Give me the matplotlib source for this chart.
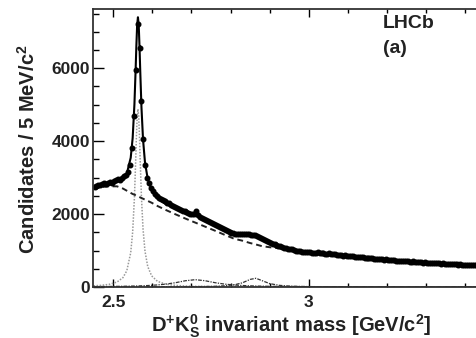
import numpy as np
import matplotlib
matplotlib.use("Agg")
import matplotlib.pyplot as plt
from matplotlib.ticker import MultipleLocator

plt.rcParams['font.family'] = ['Liberation Sans', 'DejaVu Sans']
plt.rcParams['font.weight'] = 'bold'
plt.rcParams['mathtext.fontset'] = 'custom'
plt.rcParams['mathtext.rm'] = 'Liberation Sans:bold'
plt.rcParams['mathtext.it'] = 'Liberation Sans:bold'
plt.rcParams['mathtext.bf'] = 'Liberation Sans:bold'

# data: 5 MeV bins, first bin centre 2.4525 GeV
bin_start = 2.4525
bin_width = 0.005
counts = [
    2730, 2770, 2800, 2790, 2830, 2860, 2820, 2850, 2880, 2860,
    2900, 2920, 2950, 2940, 2990, 3030, 3080, 3150, 3350, 3800,
    4700, 5950, 7200, 6550, 5100, 4050, 3350, 3000, 2850, 2720,
    2640, 2560, 2500, 2450, 2420, 2380, 2350, 2300, 2290, 2250,
    2220, 2190, 2160, 2150, 2120, 2090, 2080, 2060, 2030, 2010,
    1990, 2010, 2090, 1960, 1930, 1900, 1870, 1850, 1820, 1790,
    1760, 1720, 1700, 1670, 1640, 1610, 1580, 1560, 1530, 1510,
    1490, 1470, 1465, 1450, 1445, 1450, 1460, 1440, 1455, 1440,
    1430, 1425, 1420, 1400, 1380, 1350, 1320, 1300, 1270, 1240,
    1210, 1190, 1170, 1150, 1130, 1110, 1100, 1080, 1070, 1050,
    1040, 1030, 1010, 1000, 990, 990, 970, 960, 960, 950,
    950, 945, 940, 935, 950, 930, 920, 930, 915, 905,
    920, 900, 895, 900, 880, 885, 870, 860, 865, 850,
    855, 840, 845, 830, 825, 830, 810, 815, 800, 805,
    795, 790, 795, 780, 770, 775, 760, 765, 750, 755,
    745, 740, 730, 735, 720, 725, 710, 715, 705, 700,
    710, 695, 690, 700, 685, 680, 690, 675, 670, 680,
    665, 660, 670, 655, 650, 660, 645, 640, 650, 635,
    640, 630, 625, 635, 620, 625, 615, 620, 610, 615,
    605, 610, 600, 605, 595, 600, 595,
]

# fit components
curve_mass = [2.450, 2.470, 2.490, 2.510, 2.525, 2.535, 2.545, 2.550,
              2.5545, 2.5575, 2.5595, 2.5615, 2.5635, 2.5655, 2.5675, 2.5695, 2.5725,
              2.5765, 2.5815, 2.5885, 2.5985, 2.6135,
              2.635, 2.660, 2.685, 2.710, 2.735, 2.760, 2.785, 2.810,
              2.830, 2.850, 2.865, 2.880, 2.900, 2.925, 2.950, 2.975, 3.000,
              3.050, 3.100, 3.150, 3.200, 3.250, 3.300, 3.350, 3.400, 3.440]
background = [2680, 2740, 2760, 2760, 2700, 2640, 2580, 2550,
              2530, 2515, 2505, 2495, 2485, 2475, 2465, 2455, 2440,
              2420, 2395, 2360, 2310, 2220,
              2110, 1990, 1875, 1765, 1655, 1545, 1430, 1320,
              1270, 1205, 1165, 1120, 1090, 1060, 1025, 975, 945,
              910, 860, 810, 760, 705, 675, 642, 612, 597]
ds2_2573 = [31, 45, 72, 135, 254, 444, 938, 1508,
            2450, 3390, 4090, 4670, 4880, 4670, 4090, 3390, 2450,
            1590, 980, 560, 304, 153,
            76, 42, 27, 18, 13, 10, 8, 6,
            5, 4, 4, 3, 3, 2, 2, 2, 1,
            1, 0, 0, 0, 0, 0, 0, 0, 0]
ds1_2700 = [10, 12, 14, 17, 19, 21, 23, 25,
            26, 27, 27, 28, 29, 29, 30, 30, 32,
            34, 36, 39, 45, 56,
            78, 118, 171, 200, 171, 118, 78, 53,
            40, 31, 26, 22, 18, 14, 12, 10, 8,
            6, 5, 4, 3, 3, 2, 2, 2, 2]
dsj_2860 = [1, 1, 2, 2, 2, 2, 2, 2,
            2, 2, 2, 2, 3, 3, 3, 3, 3,
            3, 3, 3, 3, 3,
            4, 5, 7, 9, 13, 19, 32, 60,
            112, 207, 238, 176, 92, 44, 25, 16, 11,
            6, 4, 3, 2, 2, 1, 1, 1, 1]

counts = np.array(counts)
mass = bin_start + bin_width * np.arange(len(counts))
total = np.array(background) + np.array(ds2_2573) + np.array(ds1_2700) + np.array(dsj_2860)

fig = plt.figure(figsize=(4.77, 3.38), dpi=100)
ax = fig.add_axes([0.195, 0.151, 0.81, 0.822])

ax.plot(curve_mass, ds2_2573, color='#999999', ls=(0, (1, 1)), lw=1.1)
ax.plot(curve_mass, ds1_2700, color='#333333', ls=(0, (3, 1, 1, 1)), lw=0.9)
ax.plot(curve_mass, dsj_2860, color='#333333', ls=(0, (3, 1, 1, 1)), lw=0.9)
ax.plot(curve_mass, background, color='#222222', ls=(0, (3, 2)), lw=1.4)
ax.errorbar(mass, counts, yerr=np.sqrt(counts), fmt='o', color='black',
            ms=3.3, elinewidth=1.2, capsize=0)
ax.plot(curve_mass, total, color='black', lw=1.5)

ax.set_xlim(2.4487, 3.4359)
ax.set_ylim(0, 7620)
ax.xaxis.set_major_locator(MultipleLocator(0.5))
ax.xaxis.set_minor_locator(MultipleLocator(0.1))
ax.yaxis.set_major_locator(MultipleLocator(2000))
ax.yaxis.set_minor_locator(MultipleLocator(500))
ax.xaxis.set_major_formatter(plt.FuncFormatter(lambda v, p: f'{v:g}'))

ax.tick_params(axis='x', which='both', direction='in', top=True, bottom=True,
               width=1.0, labelsize=12.5, pad=6, labelcolor='#222222')
ax.tick_params(axis='x', which='major', length=6)
ax.tick_params(axis='x', which='minor', length=3)
ax.tick_params(axis='y', which='both', direction='in', left=True, right=False,
               width=1.0, labelsize=12.5, pad=2, labelcolor='#222222')
ax.tick_params(axis='y', which='major', length=8)
ax.tick_params(axis='y', which='minor', length=4.5)
for lab in ax.get_xticklabels() + ax.get_yticklabels():
    lab.set_fontweight('bold')

for side in ['left', 'bottom', 'top']:
    ax.spines[side].set_linewidth(1.3)
    ax.spines[side].set_color('#333333')
ax.spines['right'].set_visible(False)

fig.text(0.61, 0.036, r'D$^{+}$K$^{0}_{\mathrm{S}}$ invariant mass [GeV/c$^{2}$]',
         ha='center', va='center', fontsize=14.5, fontweight='bold', color='#222222')
fig.text(0.059, 0.56, r'Candidates / 5 MeV/c$^{2}$', rotation=90,
         ha='center', va='center', fontsize=14.5, fontweight='bold', color='#222222')
ax.text(0.802, 0.93, 'LHCb', transform=fig.transFigure, fontsize=14,
        fontweight='bold', color='#222222', va='center', ha='left')
ax.text(0.802, 0.856, '(a)', transform=fig.transFigure, fontsize=14,
        fontweight='bold', color='#222222', va='center', ha='left')

fig.savefig('out.png', dpi=100)
